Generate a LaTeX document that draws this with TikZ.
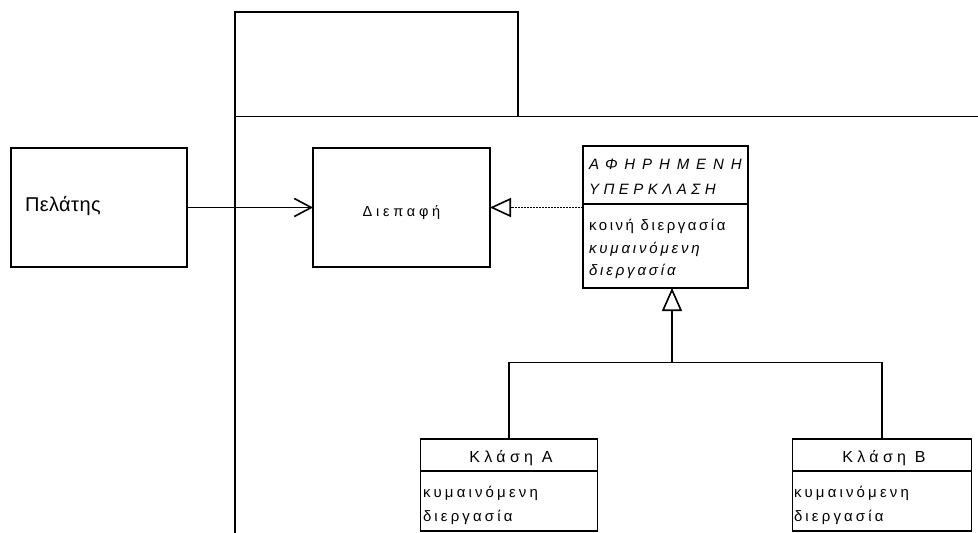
\documentclass[tikz,border=0pt]{standalone}
\usepackage{fontspec}
\setmainfont{Liberation Sans}
\usetikzlibrary{arrows.meta}
\begin{document}
\begin{tikzpicture}[x=1pt,y=-1pt,
  box/.style={draw, line width=1.8pt, rectangle, inner sep=0pt, outer sep=0pt},
  conn/.style={line width=1.8pt},
  lbl/.style={inner sep=0pt, outer sep=0pt, anchor=base west},
  ctr/.style={inner sep=0pt, outer sep=0pt, anchor=base},
  bigtxt/.style={font=\fontsize{20}{24}\selectfont\addfontfeatures{LetterSpace=2}},
  smalltxt/.style={font=\fontsize{14.5}{17}\selectfont\addfontfeatures{LetterSpace=26}},
  capAtxt/.style={font=\fontsize{15}{18}\selectfont\itshape\addfontfeatures{LetterSpace=46}},
  capBtxt/.style={font=\fontsize{15}{18}\selectfont\itshape\addfontfeatures{LetterSpace=30}},
  optxt/.style={font=\fontsize{15}{18}\selectfont\addfontfeatures{LetterSpace=17}},
  opitxt/.style={font=\fontsize{15}{18}\selectfont\itshape\addfontfeatures{LetterSpace=19}},
  nametxt/.style={font=\fontsize{16}{19}\selectfont\addfontfeatures{LetterSpace=27}},
  bodytxt/.style={font=\fontsize{15}{18}\selectfont\addfontfeatures{LetterSpace=21}},
  assoc/.style={conn, -{Straight Barb[length=17pt,width=18pt,line width=1.6pt]}},
  realize/.style={line width=1.4pt, dash pattern=on 2pt off 1pt,
    -{Triangle[open,length=21pt,width=19pt,line width=1.6pt,fill=white]}},
  generalize/.style={conn, -{Triangle[open,length=23pt,width=20pt,line width=1.6pt,fill=white]}}
]
\useasboundingbox (0,0) rectangle (978,533);

% package: tab and body outline
\node[box, minimum width=283pt, minimum height=104.5pt] (tab) at (376.5,64.25) {};
\draw[conn] (tab.south west) -- (tab.south west |- 0,534);
\draw[conn] (tab.south west) -- (979,116.5);

% client
\node[box, minimum width=176pt, minimum height=119pt] (pel) at (99,207.5) {};
\node[lbl, bigtxt] (pelt) at (25,211) {Πελάτης};

% interface
\node[box, minimum width=177pt, minimum height=119pt] (dia) at (401.5,207.5) {};
\node[ctr, smalltxt] (diat) at (401.5,216) {Διεπαφή};

% abstract superclass
\node[box, minimum width=165pt, minimum height=142pt] (sup) at (665.5,217) {};
\draw[conn] (sup.west |- 0,204) coordinate (supdl) -- (sup.east |- supdl);
\node[lbl, capAtxt] (sup1) at (589,169) {ΑΦΗΡΗΜΕΝΗ};
\node[lbl, capBtxt] (sup2) at (589,194) {ΥΠΕΡΚΛΑΣΗ};
\node[lbl, optxt] (sup3) at (589,230) {κοινή διεργασία};
\node[lbl, opitxt] (sup4) at (589,253) {κυμαινόμενη};
\node[lbl, opitxt] (sup5) at (589,275) {διεργασία};

% concrete class A
\node[box, minimum width=177pt, minimum height=92pt] (cla) at (509,485) {};
\draw[conn] (cla.west |- 0,471) coordinate (cladl) -- (cla.east |- cladl);
\node[ctr, nametxt] (clan) at (511,462) {Κλάση Α};
\node[lbl, bodytxt] (cla1) at (423,497) {κυμαινόμενη};
\node[lbl, bodytxt] (cla2) at (423,521) {διεργασία};

% concrete class B
\node[box, minimum width=179pt, minimum height=92pt] (clb) at (882,485) {};
\draw[conn] (clb.west |- 0,471) coordinate (clbdl) -- (clb.east |- clbdl);
\node[ctr, nametxt] (clbn) at (884,462) {Κλάση Β};
\node[lbl, bodytxt] (clb1) at (794,497) {κυμαινόμενη};
\node[lbl, bodytxt] (clb2) at (794,521) {διεργασία};

% connectors
\coordinate (jn) at (672,362.5);
\draw[assoc] (pel.east) -- (dia.east -| dia.west);
\draw[realize] (sup.west |- dia.east) -- (dia.east);
\draw[conn] (clb.north) |- (jn);
\draw[generalize] (cla.north) |- (jn) -- (jn |- sup.south);
\end{tikzpicture}
\end{document}
